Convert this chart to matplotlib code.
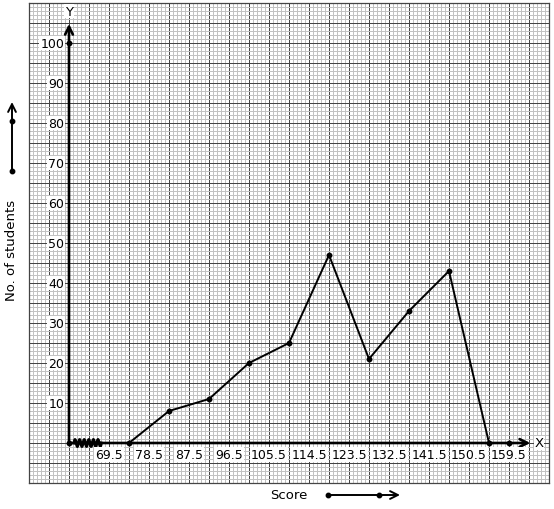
import numpy as np
import matplotlib
matplotlib.use("Agg")
import matplotlib.pyplot as plt

# frequency polygon data (class midpoints)
midpoints = [74, 83, 92, 101, 110, 119, 128, 137, 146, 155]
students = [0, 8, 11, 20, 25, 47, 21, 33, 43, 0]

# class boundaries shown under the x axis
boundaries = [69.5, 78.5, 87.5, 96.5, 105.5, 114.5, 123.5, 132.5, 141.5, 150.5, 159.5]
boundary_labels = ["69.5", "78.5", "87.5", "96.5", "105.5", "114.5", "123.5",
                   "132.5", "141.5", "150.5", "159.5"]
y_ticks = [10, 20, 30, 40, 50, 60, 70, 80, 90, 100]

x0 = 60.5      # origin of the graph
end_dot = 159.5

W, H = 554, 510
fig = plt.figure(figsize=(W / 100, H / 100), dpi=100)
ax = fig.add_axes([29 / W, 26 / H, 520 / W, 480 / H])
ax.set_xlim(51.5, 168.5)
ax.set_ylim(-10, 110)

# graph paper
ax.set_xticks(np.arange(51.5, 168.6, 4.5))
ax.set_xticks(np.arange(51.5, 168.6, 0.9), minor=True)
ax.set_yticks(np.arange(-10, 110.1, 5))
ax.set_yticks(np.arange(-10, 110.1, 1), minor=True)
ax.grid(which="minor", color="#c2c2c2", lw=0.72, antialiased=False)
ax.grid(which="major", color="#444444", lw=0.72, antialiased=False)
ax.tick_params(which="both", length=0, labelleft=False, labelbottom=False)
for s in ax.spines.values():
    s.set_color("#444444")
    s.set_linewidth(0.9)
ax.set_axisbelow(True)

# axes with arrows
ax.annotate("", xy=(164.3, 0), xytext=(x0, 0),
            arrowprops=dict(arrowstyle="->", lw=1.9, color="black",
                            mutation_scale=14, shrinkA=0, shrinkB=0))
ax.annotate("", xy=(x0, 104.8), xytext=(x0, 0),
            arrowprops=dict(arrowstyle="->", lw=1.9, color="black",
                            mutation_scale=14, shrinkA=0, shrinkB=0))
ax.text(166.2, 0, "X", ha="center", va="center", fontsize=9.5,
        bbox=dict(fc="white", ec="none", pad=0.5))
ax.text(x0, 108, "Y", ha="center", va="center", fontsize=9.5,
        bbox=dict(fc="white", ec="none", pad=0.5))

# kink on x axis
zx = np.linspace(61.6, 67.8, 80)
zy = 0.9 * np.sin((zx - 61.6) / 6.2 * 2 * np.pi * 6)
ax.plot(zx, zy, color="black", lw=2.0)

# tick labels
bb = dict(fc="white", ec="none", pad=0.6)
for v in y_ticks:
    ax.text(x0 - 1.1, v, str(v), ha="right", va="center", fontsize=9, bbox=bb)
for b, lab in zip(boundaries, boundary_labels):
    ax.text(b, -2.8, lab, ha="center", va="center", fontsize=9, bbox=bb)

# polygon
ax.plot(midpoints, students, color="black", lw=1.4, marker="o", ms=3.2)
ax.plot([x0, end_dot], [0, 0], ls="none", marker="o", ms=3.2, color="black")
ax.plot([x0], [100], ls="none", marker="o", ms=3.2, color="black")

# axis titles with decorative arrows (figure pixel overlay)
ov = fig.add_axes([0, 0, 1, 1], facecolor="none")
ov.set_xlim(0, W)
ov.set_ylim(H, 0)
ov.axis("off")
ov.text(289, 496, "Score", ha="center", va="center", fontsize=9.5)
ov.annotate("", xy=(400, 496), xytext=(328, 496),
            arrowprops=dict(arrowstyle="->", lw=1.4, color="black",
                            mutation_scale=14, shrinkA=0, shrinkB=0))
ov.plot([328, 379], [496, 496], ls="none", marker="o", ms=3.2, color="black")
ov.text(12, 250, "No. of students", ha="center", va="center",
        rotation=90, fontsize=9.5)
ov.annotate("", xy=(12, 103), xytext=(12, 172),
            arrowprops=dict(arrowstyle="->", lw=1.4, color="black",
                            mutation_scale=14, shrinkA=0, shrinkB=0))
ov.plot([12, 12], [172, 122], ls="none", marker="o", ms=3.2, color="black")

fig.savefig("out.png", dpi=100)
